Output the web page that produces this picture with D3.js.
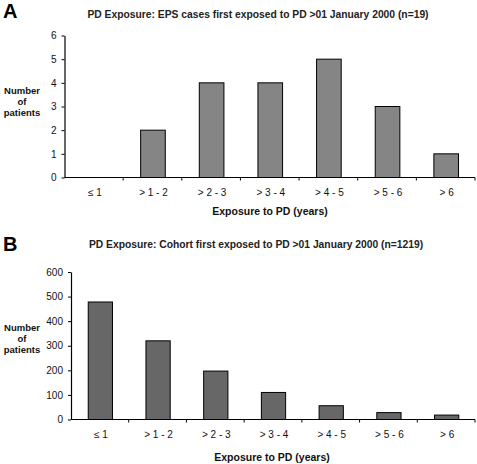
<!DOCTYPE html>
<html><head><meta charset="utf-8">
<script src="https://cdn.jsdelivr.net/npm/d3@7"></script>
<style>body{margin:0;background:#fff}svg{display:block;font-family:"Liberation Sans",Arial,sans-serif}</style>
</head><body>
<svg id="c" width="477" height="464"></svg>
<script>
const categories = ["\u2264 1", "> 1 - 2", "> 2 - 3", "> 3 - 4", "> 4 - 5", "> 5 - 6", "> 6"];
const valuesA = [0, 2, 4, 4, 5, 3, 1];
const valuesB = [478, 320, 197, 110, 56, 28, 18];
const ticksA = [0, 1, 2, 3, 4, 5, 6];
const ticksB = [0, 100, 200, 300, 400, 500, 600];
const titleA = "PD Exposure: EPS cases first exposed to PD >01 January 2000 (n=19)";
const titleB = "PD Exposure: Cohort first exposed to PD >01 January 2000 (n=1219)";

const svg = d3.select("#c");

function panel(cfg) {
  const g = svg.append("g");
  const x = d3.scaleBand().domain(categories).range([cfg.x0, cfg.x1]).paddingInner(0).paddingOuter(0);
  const y = d3.scaleLinear().domain([0, cfg.max]).range([cfg.y0, cfg.y1]);
  g.append("text").attr("x", 3).attr("y", cfg.letterY).attr("font-size", 20).attr("font-weight", "bold").text(cfg.letter);
  g.append("text").attr("x", cfg.titleX).attr("y", cfg.titleY).attr("text-anchor", "middle")
    .attr("font-size", 10.3).attr("font-weight", "bold").attr("fill", "#222").text(cfg.title);
  const bw = x.bandwidth() * 0.42;
  g.selectAll("rect").data(cfg.values).join("rect")
    .attr("x", (d, i) => x(categories[i]) + x.bandwidth() / 2 - bw / 2 + 0.5)
    .attr("y", d => y(d))
    .attr("width", bw)
    .attr("height", d => y(0) - y(d))
    .attr("fill", cfg.fill).attr("stroke", "#000").attr("stroke-width", 1)
    .attr("display", d => d > 0 ? null : "none");
  const ya = g.append("g").attr("transform", `translate(${cfg.x0},0)`)
    .call(d3.axisLeft(y).tickValues(cfg.ticks).tickFormat(d3.format("d")).tickSize(3).tickSizeOuter(0).tickPadding(5));
  ya.select(".domain").attr("stroke", "#000").attr("stroke-width", 1.2);
  ya.selectAll("text").attr("font-size", 10).attr("fill", "#111").attr("font-family", "Liberation Sans, Arial, sans-serif");
  const xa = g.append("g").attr("transform", `translate(0,${cfg.y0})`);
  xa.append("line").attr("x1", cfg.x0).attr("x2", cfg.x1).attr("stroke", "#000").attr("stroke-width", 1.2);
  const bounds = categories.map(c => x(c)).concat([cfg.x1]).slice(1);
  xa.selectAll("line.t").data(bounds).join("line").attr("class", "t")
    .attr("x1", d => d).attr("x2", d => d).attr("y1", 0).attr("y2", 3).attr("stroke", "#000");
  xa.selectAll("text").data(categories).join("text")
    .attr("x", c => x(c) + x.bandwidth() / 2 + 1).attr("y", cfg.catDy)
    .attr("text-anchor", "middle").attr("font-size", 10).attr("fill", "#111").text(c => c);
  g.append("text").attr("x", cfg.xtX).attr("y", cfg.xtY).attr("text-anchor", "middle")
    .attr("font-size", 10.5).attr("font-weight", "bold").attr("fill", "#111").text("Exposure to PD (years)");
  const yt = g.append("text").attr("text-anchor", "middle").attr("font-size", 9.5).attr("font-weight", "bold").attr("fill", "#111");
  ["Number", "of", "patients"].forEach((t, i) => {
    yt.append("tspan").attr("x", 22).attr("y", cfg.ylY + i * 11).text(t);
  });
}

panel({letter: "A", letterY: 18, title: titleA, titleX: 258, titleY: 18,
  x0: 64.5, x1: 475, y0: 177.5, y1: 35.5, max: 6, ticks: ticksA, values: valuesA, fill: "#858585",
  catDy: 18, xtX: 270, xtY: 215, ylY: 94});
panel({letter: "B", letterY: 251, title: titleB, titleX: 256, titleY: 248,
  x0: 71, x1: 475, y0: 419.5, y1: 272, max: 600, ticks: ticksB, values: valuesB, fill: "#676767",
  catDy: 18, xtX: 272, xtY: 461, ylY: 331});
</script>
</body></html>
